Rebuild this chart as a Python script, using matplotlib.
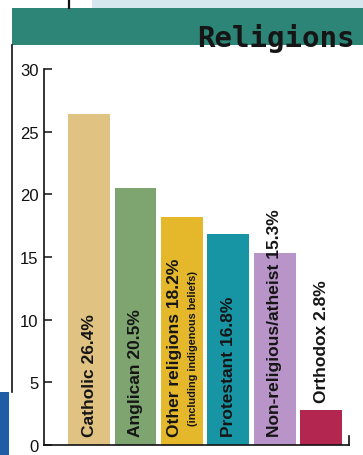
import matplotlib
matplotlib.use("Agg")
import matplotlib.pyplot as plt
from matplotlib.patches import Rectangle
from matplotlib.lines import Line2D

plt.rcParams.update({
    "font.family": ["Liberation Sans", "DejaVu Sans"],
    "axes.spines.top": False, "axes.spines.right": False,
})

# religion shares (%)
religions = ["Catholic", "Anglican", "Other religions", "Protestant",
             "Non-religious/atheist", "Orthodox"]
shares = [26.4, 20.5, 18.2, 16.8, 15.3, 2.8]
colors = ["#E0C283", "#7EA46F", "#E4B82A", "#1795A5", "#B894C9", "#B3264F"]
yticks = [0, 5, 10, 15, 20, 25, 30]
note = "(including indigenous beliefs)"

W, H = 363, 456
fig = plt.figure(figsize=(W / 100, H / 100), dpi=100)


# page furniture: header band, strips and rule lines
def frect(x, y, w, h, c):
    fig.patches.append(Rectangle((x / W, 1 - (y + h) / H), w / W, h / H,
                                 transform=fig.transFigure, color=c, lw=0,
                                 zorder=0))


frect(92, 0, 271, 9, "#D4E7EE")
frect(12, 9, 351, 37, "#2C8577")
frect(0, 393, 9, 63, "#1F5EA6")
fig.add_artist(Line2D([69 / W, 69 / W], [1, 1 - 9 / H], color="#111111", lw=1.6))
fig.add_artist(Line2D([12 / W, 12 / W], [1 - 46 / H, 1 - 393 / H],
                      color="#111111", lw=1.2))
fig.text(355 / W, 1 - 47 / H, "Religions", ha="right", va="baseline",
         family="DejaVu Sans Mono", fontweight="bold", fontsize=21,
         color="#151515")

ax = fig.add_axes([44 / W, (H - 446) / H, 305 / W, 376 / H])
ax.set_facecolor("none")
x = list(range(len(shares)))
ax.bar(x, shares, width=0.9, color=colors, zorder=2)
ax.set_xlim(-0.97, 5.6)
ax.set_ylim(0, 30)
ax.set_xticks([])
ax.set_yticks(yticks)
ax.tick_params(axis="y", direction="in", length=6, width=1.1, pad=4,
               labelsize=12, colors="#111111")
for s in ("left", "bottom"):
    ax.spines[s].set_linewidth(1.2)
    ax.spines[s].set_color("#111111")
ax.plot([1, 1], [0, 0.024], transform=ax.transAxes, color="#111111",
        lw=1.2, clip_on=False)

lab = dict(rotation=90, ha="center", va="bottom", fontweight="bold",
           color="#151515", zorder=3)
for i, (name, v) in enumerate(zip(religions, shares)):
    s = f"{name} {v}%"
    if name == "Other religions":
        ax.text(i - 0.16, 0.75, s, fontsize=12.5, **lab)
        ax.text(i + 0.25, 1.6, note, fontsize=7.8, **lab)
    elif name == "Orthodox":
        ax.text(i, v + 0.65, s, fontsize=12.5, **lab)
    else:
        ax.text(i, 0.75, s, fontsize=12.5, **lab)

fig.savefig("out.png", dpi=100)
